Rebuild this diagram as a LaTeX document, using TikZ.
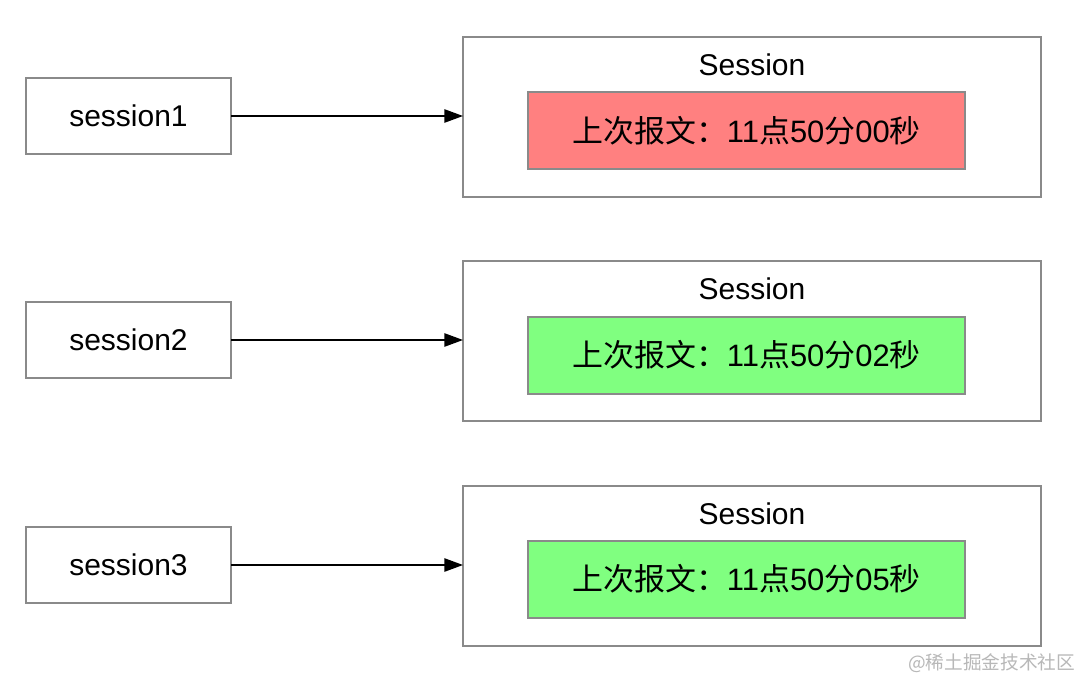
\documentclass[tikz,border=0pt]{standalone}
\usepackage{fontspec}
\setmainfont{Liberation Sans}
\newfontfamily\cjk{Noto Sans CJK SC}
\usetikzlibrary{arrows.meta}
\definecolor{bordergray}{HTML}{8A8A8A}
\definecolor{redfill}{HTML}{FF8080}
\definecolor{greenfill}{HTML}{80FF80}
\definecolor{wmgray}{HTML}{B8B8B8}
\begin{document}
\begin{tikzpicture}[x=0.75pt,y=-0.75pt,
  every node/.style={inner sep=0pt,outer sep=0pt},
  keybox/.style={draw=bordergray,line width=1.5pt,fill=white,minimum width=153.75pt,minimum height=57pt,font=\fontsize{22.5}{27}\selectfont},
  outerbox/.style={draw=bordergray,line width=1.5pt,fill=white,minimum width=433.5pt,minimum height=120pt},
  innerbox/.style={draw=bordergray,line width=1.5pt,minimum width=327.75pt,minimum height=57.75pt,font=\fontsize{23.2}{27}\selectfont},
  titlelbl/.style={font=\fontsize{22.5}{27}\selectfont},
  conn/.style={draw=black,line width=1.2pt,-{Triangle[length=14pt,width=10pt]}}
]
\useasboundingbox (0,0) rectangle (1080,681);
\fill[white] (0,0) rectangle (1080,681);

% row 1
\node[keybox] (s1) at (128.5,116) {session1};
\node[outerbox] (o1) at (752,117) {};
\node[titlelbl] (t1) at (752,65) {Session};
\node[innerbox,fill=redfill] (i1) at (746.5,130.5) {{\cjk 上次报文：}11{\cjk 点}50{\cjk 分}00{\cjk 秒}};
\draw[conn] (s1.east) -- (s1.east -| o1.west);

% row 2
\node[keybox] (s2) at (128.5,340) {session2};
\node[outerbox] (o2) at (752,341) {};
\node[titlelbl] (t2) at (752,289) {Session};
\node[innerbox,fill=greenfill] (i2) at (746.5,355) {{\cjk 上次报文：}11{\cjk 点}50{\cjk 分}02{\cjk 秒}};
\draw[conn] (s2.east) -- (s2.east -| o2.west);

% row 3
\node[keybox] (s3) at (128.5,565) {session3};
\node[outerbox] (o3) at (752,565.5) {};
\node[titlelbl] (t3) at (752,514) {Session};
\node[innerbox,fill=greenfill] (i3) at (746.5,579) {{\cjk 上次报文：}11{\cjk 点}50{\cjk 分}05{\cjk 秒}};
\draw[conn] (s3.east) -- (s3.east -| o3.west);

% watermark
\node[anchor=east,text=wmgray,font=\cjk\fontsize{14}{16}\selectfont] (wm) at (1075,663) {@稀土掘金技术社区};
\end{tikzpicture}
\end{document}
